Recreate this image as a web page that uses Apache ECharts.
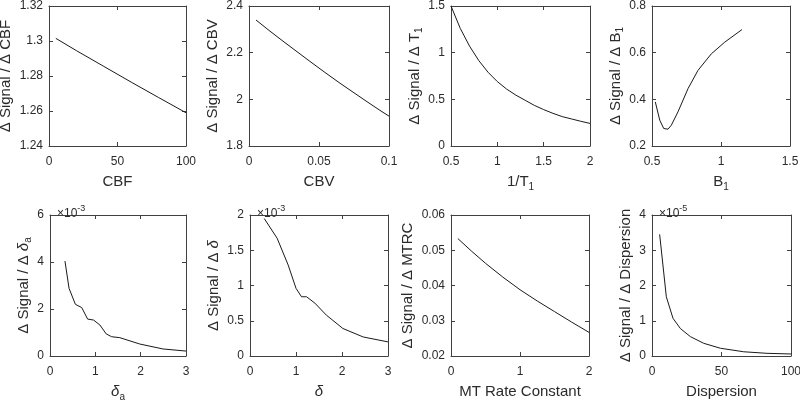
<!DOCTYPE html>
<html>
<head>
<meta charset="utf-8">
<script src="https://cdn.jsdelivr.net/npm/echarts@6/dist/echarts.min.js"></script>
<style>html,body{margin:0;padding:0;background:#fff}#c{width:800px;height:402px}</style>
</head>
<body>
<div id="c"></div>
<script>
// ---- data ----
const cbfX = [5, 20, 40, 60, 80, 100];
const cbfY = [1.3015, 1.2945, 1.2855, 1.2765, 1.2677, 1.259];

const cbvX = [0.005, 0.015, 0.025, 0.035, 0.045, 0.055, 0.065, 0.075, 0.085, 0.095, 0.1];
const cbvY = [2.340, 2.292, 2.246, 2.201, 2.156, 2.112, 2.069, 2.028, 1.987, 1.947, 1.928];

const t1X = [0.5, 0.6, 0.7, 0.8, 0.9, 1.0, 1.1, 1.2, 1.3, 1.4, 1.5, 1.6, 1.7, 1.8, 1.9, 2.0];
const t1Y = [1.5, 1.26, 1.07, 0.915, 0.79, 0.69, 0.61, 0.545, 0.49, 0.435, 0.39, 0.35, 0.315, 0.29, 0.265, 0.242];

const b1X = [0.524, 0.556, 0.585, 0.616, 0.64, 0.688, 0.761, 0.833, 0.93, 1.027, 1.152];
const b1Y = [0.389, 0.311, 0.275, 0.272, 0.289, 0.346, 0.446, 0.524, 0.595, 0.645, 0.699];

const daX = [0.33, 0.42, 0.56, 0.70, 0.83, 0.96, 1.10, 1.24, 1.36, 1.54, 1.98, 2.49, 3.0];
const daY = [4.04, 2.88, 2.2, 2.06, 1.57, 1.53, 1.32, 0.94, 0.82, 0.78, 0.51, 0.30, 0.21]; // x1e-3

const dX = [0.31, 0.59, 0.83, 1.0, 1.12, 1.23, 1.41, 1.66, 2.02, 2.46, 3.0];
const dY = [1.95, 1.67, 1.29, 0.96, 0.84, 0.84, 0.75, 0.58, 0.39, 0.27, 0.20]; // x1e-3

const mtX = [0.1, 0.3, 0.5, 0.75, 1.0, 1.25, 1.5, 1.75, 2.0];
const mtY = [0.0533, 0.0497, 0.0463, 0.0424, 0.0388, 0.0356, 0.0326, 0.0296, 0.0267];

const dispX = [5.5, 10.3, 15.1, 20.4, 27.6, 37.2, 49.2, 66, 82.7, 100];
const dispY = [3.45, 1.68, 1.07, 0.78, 0.55, 0.36, 0.22, 0.12, 0.076, 0.057]; // x1e-5

// axis ranges / ticks
const xRanges = [[0,100,50],[0,0.1,0.05],[0.5,2,0.5],[0.5,1.5,0.5],[0,3,1],[0,3,1],[0,2,1],[0,100,50]];
const yRanges = [[1.24,1.32,0.02],[1.8,2.4,0.2],[0,1.5,0.5],[0.2,0.8,0.2],[0,6,2],[0,2,0.5],[0.02,0.06,0.01],[0,4,1]];

const xNames = ['CBF', 'CBV', '1/T{sub|1}', 'B{sub|1}', '{it|δ}{sub|a}', '{it|δ}', 'MT Rate Constant', 'Dispersion'];
const yNames = ['Δ Signal / Δ CBF', 'Δ Signal / Δ CBV', 'Δ Signal / Δ T{sub|1}', 'Δ Signal / Δ B{sub|1}',
                'Δ Signal / Δ {it|δ}{sub|a}', 'Δ Signal / Δ {it|δ}', 'Δ Signal / Δ MTRC', 'Δ Signal / Δ Dispersion'];
const exps = [null, null, null, null, '-3', '-3', null, '-5'];

const seriesX = [cbfX, cbvX, t1X, b1X, daX, dX, mtX, dispX];
const seriesY = [cbfY, cbvY, t1Y, b1Y, daY, dY, mtY, dispY];

// ---- layout ----
const grids = [
  {left: 49, top: 6, width: 137, height: 140},
  {left: 249, top: 6, width: 140, height: 140},
  {left: 451, top: 6, width: 139, height: 140},
  {left: 652, top: 6, width: 138, height: 140},
  {left: 50, top: 215, width: 136, height: 141},
  {left: 250, top: 215, width: 138, height: 141},
  {left: 451, top: 215, width: 138, height: 141},
  {left: 652, top: 215, width: 139, height: 141}
].map(g => Object.assign(g, {containLabel: false, outerBoundsMode: 'none'}));
const yNameGaps = [24, 23, 25, 26, 14, 23, 28, 13];

const FONT = 'Liberation Sans';
const TXT = '#2b2b2b';
const AX = '#404040';
const LH = 20;
const rich = {
  sub: {fontSize: 10, fontFamily: FONT, color: TXT, verticalAlign: 'bottom', lineHeight: LH},
  it: {fontSize: 15, fontFamily: FONT, fontStyle: 'italic', color: TXT, lineHeight: LH, verticalAlign: 'middle'}
};

const xAxes = [], yAxes = [], series = [], titles = [];
grids.forEach((g, i) => {
  const [xmin, xmax, xi] = xRanges[i];
  const [ymin, ymax, yi] = yRanges[i];
  const common = {type: 'value', gridIndex: i, splitLine: {show: false},
    axisLine: {show: true, onZero: false, lineStyle: {color: AX, width: 1}},
    axisTick: {show: true, inside: true, length: 4, lineStyle: {color: AX}}};
  xAxes.push(Object.assign({}, common, {position: 'bottom', min: xmin, max: xmax, interval: xi,
    name: xNames[i], nameLocation: 'middle', nameGap: 26,
    nameTextStyle: {fontSize: 15, fontFamily: FONT, color: TXT, rich: rich, lineHeight: LH},
    axisLabel: {fontSize: 12, fontFamily: FONT, color: TXT, margin: 10, showMinLabel: true, showMaxLabel: true}}));
  xAxes.push(Object.assign({}, common, {position: 'top', min: xmin, max: xmax, interval: xi, axisLabel: {show: false}}));
  yAxes.push(Object.assign({}, common, {position: 'left', min: ymin, max: ymax, interval: yi,
    name: yNames[i], nameLocation: 'middle', nameGap: yNameGaps[i], nameRotate: 90,
    nameTextStyle: {fontSize: 15, fontFamily: FONT, color: TXT, rich: rich, lineHeight: LH},
    axisLabel: {fontSize: 12, fontFamily: FONT, color: TXT, margin: 6, showMinLabel: true, showMaxLabel: true}}));
  yAxes.push(Object.assign({}, common, {position: 'right', min: ymin, max: ymax, interval: yi, axisLabel: {show: false}}));
  series.push({type: 'line', xAxisIndex: 2 * i, yAxisIndex: 2 * i,
    data: seriesX[i].map((x, k) => [x, seriesY[i][k]]),
    showSymbol: false, smooth: false,
    lineStyle: {color: '#1a1a1a', width: 1}, silent: true, animation: false});
  if (exps[i]) {
    titles.push({left: g.left + 2, top: g.top - 16,
      text: '{a|×10}{b|' + exps[i] + '}',
      textStyle: {fontWeight: 'normal', rich: {
        a: {fontSize: 12, fontFamily: FONT, fontWeight: 'normal', color: TXT, verticalAlign: 'bottom', lineHeight: 16},
        b: {fontSize: 9, fontFamily: FONT, fontWeight: 'normal', color: TXT, verticalAlign: 'top', lineHeight: 16}
      }}});
  }
});

const chart = echarts.init(document.getElementById('c'));
chart.setOption({
  animation: false,
  backgroundColor: '#fff',
  title: titles,
  grid: grids,
  xAxis: xAxes,
  yAxis: yAxes,
  series: series
});
</script>
</body>
</html>
